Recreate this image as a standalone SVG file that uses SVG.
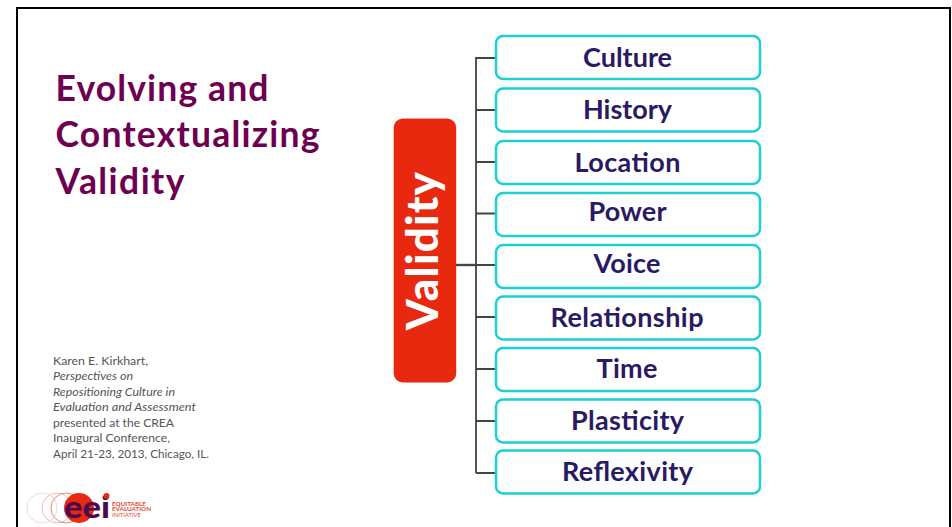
<svg xmlns="http://www.w3.org/2000/svg" width="952" height="527" viewBox="0 0 952 527">
<style>
text{font-family:"Lato","Open Sans","Liberation Sans",sans-serif}
.box{fill:#fff;stroke:#1ccfd0;stroke-width:2.500}
.lbl{fill:#2a1a63;font-size:27px;font-weight:700;text-anchor:middle}
.ttl{fill:#6d0050;font-size:35.500px;font-weight:700}
.cite{fill:#555;font-size:12px}
.con{fill:none;stroke:#444;stroke-width:1.800}
</style>
<rect width="952" height="527" fill="#fff"/>
<path d="M17 527V8H950V527" fill="none" stroke="#000" stroke-width="2"/>
<g id="title">
<text class="ttl" x="55.500" y="100.500" textLength="213">Evolving and</text>
<text class="ttl" x="55.500" y="146.500" textLength="264">Contextualizing</text>
<text class="ttl" x="55.500" y="193.500" textLength="129">Validity</text>
</g>
<g id="citation">
<text class="cite" x="53" y="365" textLength="95" lengthAdjust="spacingAndGlyphs">Karen E. Kirkhart,</text>
<text class="cite" x="53" y="380" font-style="italic" textLength="80" lengthAdjust="spacingAndGlyphs">Perspectives on</text>
<text class="cite" x="53" y="396" font-style="italic" textLength="122" lengthAdjust="spacingAndGlyphs">Repositioning Culture in</text>
<text class="cite" x="53" y="411" font-style="italic" textLength="143" lengthAdjust="spacingAndGlyphs">Evaluation and Assessment</text>
<text class="cite" x="53" y="427" textLength="121" lengthAdjust="spacingAndGlyphs">presented at the CREA</text>
<text class="cite" x="53" y="442" textLength="117" lengthAdjust="spacingAndGlyphs">Inaugural Conference,</text>
<text class="cite" x="53" y="458" textLength="156" lengthAdjust="spacingAndGlyphs">April 21-23, 2013, Chicago, IL.</text>
</g>
<g id="logo">
<circle cx="42" cy="508" r="15" fill="none" stroke="#eccfc8" stroke-width="0.8"/>
<circle cx="57" cy="508" r="15" fill="none" stroke="#e8b3a6" stroke-width="0.8"/>
<circle cx="66" cy="508" r="15" fill="none" stroke="#e58a76" stroke-width="1"/>
<circle cx="79" cy="508" r="15" fill="#e8290f"/>
<text x="64" y="517.500" font-size="30" font-weight="900" fill="#4a0a4e" textLength="46" lengthAdjust="spacingAndGlyphs">eei</text>
<circle cx="106.500" cy="496" r="3" fill="#e8290f"/>
<text x="112" y="505.500" font-size="6" font-weight="700" fill="#e8492f" textLength="34" lengthAdjust="spacingAndGlyphs">EQUITABLE</text>
<text x="112" y="511" font-size="6" font-weight="700" fill="#e8492f" textLength="39" lengthAdjust="spacingAndGlyphs">EVALUATION</text>
<text x="112" y="516.500" font-size="6" fill="#e8492f" textLength="29" lengthAdjust="spacingAndGlyphs">INITIATIVE</text>
</g>
<g id="connectors">
<path class="con" d="M476 473V58H496M476 110H496M476 162H496M476 213.500H496M476 265H496M476 317H496M476 369H496M476 421H496M476 473H496"/>
<path class="con" style="stroke-width:2.400" d="M456 265H476"/>
</g>
<g id="validity">
<rect x="393.700" y="118.500" width="62.500" height="264" rx="9" fill="#e8290f"/>
<text transform="translate(438 330) rotate(-90)" font-size="44" font-weight="900" fill="#fff" textLength="158">Validity</text>
</g>
<g id="culture"><rect class="box" x="496" y="36" width="264" height="43" rx="7"/><text class="lbl" x="627.500" y="67" textLength="89">Culture</text></g>
<g id="history"><rect class="box" x="496" y="88.500" width="264" height="43" rx="7"/><text class="lbl" x="627.500" y="119" textLength="89">History</text></g>
<g id="location"><rect class="box" x="496" y="141" width="264" height="43" rx="7"/><text class="lbl" x="627.500" y="172" textLength="106">Location</text></g>
<g id="power"><rect class="box" x="496" y="193" width="264" height="43" rx="7"/><text class="lbl" x="627.500" y="221" textLength="78">Power</text></g>
<g id="voice"><rect class="box" x="496" y="245" width="264" height="43" rx="7"/><text class="lbl" x="627" y="273" textLength="67">Voice</text></g>
<g id="relationship"><rect class="box" x="496" y="296.500" width="264" height="43" rx="7"/><text class="lbl" x="627" y="327" textLength="153">Relationship</text></g>
<g id="time"><rect class="box" x="496" y="348" width="264" height="43" rx="7"/><text class="lbl" x="627" y="378" textLength="61">Time</text></g>
<g id="plasticity"><rect class="box" x="496" y="399.500" width="264" height="43" rx="7"/><text class="lbl" x="627.500" y="430" textLength="113">Plasticity</text></g>
<g id="reflexivity"><rect class="box" x="496" y="450.500" width="264" height="43" rx="7"/><text class="lbl" x="627.500" y="481" textLength="131">Reflexivity</text></g>
</svg>
